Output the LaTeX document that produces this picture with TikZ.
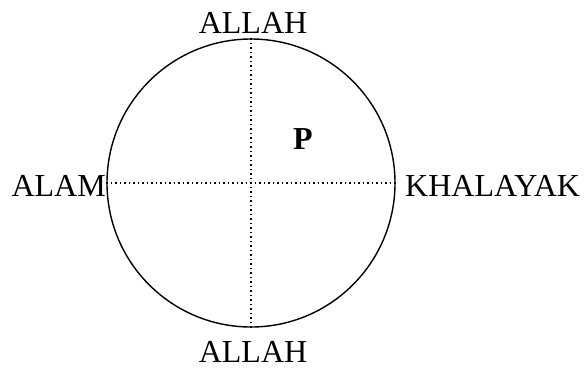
\documentclass[tikz,border=0pt]{standalone}
\usepackage{fontspec}
\setmainfont{Liberation Serif}
\usetikzlibrary{positioning}
\tikzset{
    % ring and its cross
    ring/.style={circle, draw=black, line width=1.4pt, minimum size=288pt, inner sep=0pt},
    crossline/.style={line width=1.6pt, dash pattern=on 1.6pt off 2.9pt, black},
    % labels round the ring
    dirlabel/.style={inner sep=0pt, font=\fontsize{32}{36}\selectfont},
    plabel/.style={inner sep=0pt, font=\fontsize{32}{36}\selectfont\bfseries},
}
\begin{document}
\begin{tikzpicture}[x=1pt,y=-1pt]
  \useasboundingbox (0,0) rectangle (585,368);
  \node[ring] (c) at (251,183) {};
  \draw[crossline] (c.north) -- (c.south);
  \draw[crossline] (c.west) -- (c.east);
  \node[dirlabel, anchor=base] (top) at (253,33) {ALLAH};
  \node[dirlabel, anchor=base] (bottom) at (253,362) {ALLAH};
  \node[dirlabel, anchor=base east] (left) at (106,196) {ALAM};
  \node[dirlabel, anchor=base west] (right) at (405,196) {KHALAYAK};
  \node[plabel, anchor=base] (p) at (303,149) {P};
\end{tikzpicture}
\end{document}
